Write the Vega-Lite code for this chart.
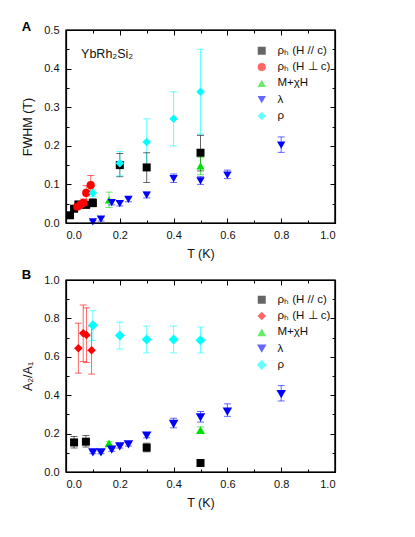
{
  "$schema": "https://vega.github.io/schema/vega-lite/v6.json",
  "padding": {"left": 21, "top": 20, "right": 5, "bottom": 5},
  "spacing": 7,
  "datasets": {
    "a": [
      {"s": "ρₕ (H // c)", "T": 0.015, "v": 0.020, "lo": 0.013, "hi": 0.027},
      {"s": "ρₕ (H // c)", "T": 0.030, "v": 0.037, "lo": 0.030, "hi": 0.044},
      {"s": "ρₕ (H // c)", "T": 0.046, "v": 0.048, "lo": 0.040, "hi": 0.056},
      {"s": "ρₕ (H // c)", "T": 0.075, "v": 0.047, "lo": 0.039, "hi": 0.056},
      {"s": "ρₕ (H // c)", "T": 0.100, "v": 0.052, "lo": 0.042, "hi": 0.063},
      {"s": "ρₕ (H // c)", "T": 0.200, "v": 0.150, "lo": 0.120, "hi": 0.180},
      {"s": "ρₕ (H // c)", "T": 0.300, "v": 0.144, "lo": 0.105, "hi": 0.182},
      {"s": "ρₕ (H // c)", "T": 0.500, "v": 0.182, "lo": 0.135, "hi": 0.227},
      {"s": "ρₕ (H ⊥ c)", "T": 0.042, "v": 0.042, "lo": 0.035, "hi": 0.050},
      {"s": "ρₕ (H ⊥ c)", "T": 0.053, "v": 0.047, "lo": 0.039, "hi": 0.055},
      {"s": "ρₕ (H ⊥ c)", "T": 0.065, "v": 0.052, "lo": 0.043, "hi": 0.062},
      {"s": "ρₕ (H ⊥ c)", "T": 0.075, "v": 0.078, "lo": 0.060, "hi": 0.097},
      {"s": "ρₕ (H ⊥ c)", "T": 0.092, "v": 0.098, "lo": 0.075, "hi": 0.123},
      {"s": "M+χH", "T": 0.160, "v": 0.060, "lo": 0.040, "hi": 0.080},
      {"s": "M+χH", "T": 0.500, "v": 0.148, "lo": 0.125, "hi": 0.170},
      {"s": "λ", "T": 0.100, "v": 0.003, "lo": 0.000, "hi": 0.006},
      {"s": "λ", "T": 0.130, "v": 0.010, "lo": 0.005, "hi": 0.015},
      {"s": "λ", "T": 0.170, "v": 0.053, "lo": 0.047, "hi": 0.059},
      {"s": "λ", "T": 0.200, "v": 0.050, "lo": 0.044, "hi": 0.056},
      {"s": "λ", "T": 0.232, "v": 0.061, "lo": 0.055, "hi": 0.067},
      {"s": "λ", "T": 0.300, "v": 0.072, "lo": 0.065, "hi": 0.080},
      {"s": "λ", "T": 0.400, "v": 0.115, "lo": 0.105, "hi": 0.127},
      {"s": "λ", "T": 0.500, "v": 0.109, "lo": 0.100, "hi": 0.120},
      {"s": "λ", "T": 0.600, "v": 0.124, "lo": 0.115, "hi": 0.137},
      {"s": "λ", "T": 0.800, "v": 0.202, "lo": 0.183, "hi": 0.223},
      {"s": "ρ", "T": 0.100, "v": 0.078, "lo": 0.068, "hi": 0.088},
      {"s": "ρ", "T": 0.200, "v": 0.155, "lo": 0.122, "hi": 0.185},
      {"s": "ρ", "T": 0.300, "v": 0.210, "lo": 0.150, "hi": 0.270},
      {"s": "ρ", "T": 0.400, "v": 0.270, "lo": 0.200, "hi": 0.340},
      {"s": "ρ", "T": 0.500, "v": 0.340, "lo": 0.230, "hi": 0.450}
    ],
    "b": [
      {"s": "ρₕ (H // c)", "T": 0.030, "v": 0.154, "lo": 0.125, "hi": 0.185},
      {"s": "ρₕ (H // c)", "T": 0.074, "v": 0.158, "lo": 0.130, "hi": 0.190},
      {"s": "ρₕ (H // c)", "T": 0.300, "v": 0.127, "lo": 0.105, "hi": 0.150},
      {"s": "ρₕ (H // c)", "T": 0.500, "v": 0.047, "lo": 0.040, "hi": 0.054},
      {"s": "ρₕ (H ⊥ c)", "T": 0.046, "v": 0.645, "lo": 0.515, "hi": 0.775},
      {"s": "ρₕ (H ⊥ c)", "T": 0.064, "v": 0.723, "lo": 0.575, "hi": 0.870},
      {"s": "ρₕ (H ⊥ c)", "T": 0.076, "v": 0.714, "lo": 0.570, "hi": 0.855},
      {"s": "ρₕ (H ⊥ c)", "T": 0.095, "v": 0.634, "lo": 0.510, "hi": 0.760},
      {"s": "M+χH", "T": 0.160, "v": 0.149, "lo": 0.140, "hi": 0.158},
      {"s": "M+χH", "T": 0.500, "v": 0.218, "lo": 0.205, "hi": 0.235},
      {"s": "λ", "T": 0.100, "v": 0.102, "lo": 0.095, "hi": 0.109},
      {"s": "λ", "T": 0.130, "v": 0.102, "lo": 0.095, "hi": 0.109},
      {"s": "λ", "T": 0.170, "v": 0.116, "lo": 0.108, "hi": 0.124},
      {"s": "λ", "T": 0.200, "v": 0.133, "lo": 0.125, "hi": 0.141},
      {"s": "λ", "T": 0.232, "v": 0.144, "lo": 0.135, "hi": 0.153},
      {"s": "λ", "T": 0.300, "v": 0.189, "lo": 0.178, "hi": 0.205},
      {"s": "λ", "T": 0.400, "v": 0.250, "lo": 0.230, "hi": 0.280},
      {"s": "λ", "T": 0.500, "v": 0.284, "lo": 0.260, "hi": 0.315},
      {"s": "λ", "T": 0.600, "v": 0.315, "lo": 0.290, "hi": 0.355},
      {"s": "λ", "T": 0.800, "v": 0.405, "lo": 0.370, "hi": 0.450},
      {"s": "ρ", "T": 0.100, "v": 0.764, "lo": 0.685, "hi": 0.840},
      {"s": "ρ", "T": 0.200, "v": 0.711, "lo": 0.640, "hi": 0.780},
      {"s": "ρ", "T": 0.300, "v": 0.690, "lo": 0.620, "hi": 0.760},
      {"s": "ρ", "T": 0.400, "v": 0.690, "lo": 0.620, "hi": 0.760},
      {"s": "ρ", "T": 0.500, "v": 0.686, "lo": 0.620, "hi": 0.755}
    ],
    "label": [{"name": "YbRh₂Si₂"}]
  },
  "vconcat": [
    {
      "width": 269,
      "height": 193,
      "title": {"text": "A", "anchor": "start", "frame": "bounds", "fontSize": 13, "fontWeight": "bold", "font": "Liberation Sans", "offset": -10, "color": "black"},
      "layer": [
        {
          "data": {"name": "a"},
          "mark": {"type": "rule", "opacity": 0.6, "strokeWidth": 1},
          "encoding": {
            "x": {"field": "T", "type": "quantitative", "scale": {"domain": [0, 1], "nice": false, "zero": false, "padding": 0},
                  "axis": {"orient": "bottom", "values": [0, 0.2, 0.4, 0.6, 0.8, 1], "format": ".1f", "tickSize": -5, "labelPadding": 11, "title": "T (K)", "titlePadding": 7}},
            "y": {"field": "lo", "type": "quantitative", "scale": {"domain": [0, 0.5], "nice": false, "padding": 0},
                  "axis": {"orient": "left", "values": [0, 0.1, 0.2, 0.3, 0.4, 0.5], "format": ".1f", "tickSize": -5, "labelPadding": 12, "title": "FWHM (T)", "titlePadding": 9}},
            "y2": {"field": "hi"},
            "color": {"field": "s", "type": "nominal", "scale": {"domain": ["ρₕ (H // c)", "ρₕ (H ⊥ c)", "M+χH", "λ", "ρ"], "range": ["#000000", "#ff0000", "#00e000", "#0000ff", "#00ffff"]}}
          }
        },
        {
          "data": {"name": "a"},
          "mark": {"type": "tick", "orient": "horizontal", "size": 7, "thickness": 1, "opacity": 0.6},
          "encoding": {
            "x": {"field": "T", "type": "quantitative", "axis": {"orient": "bottom", "values": [0.1, 0.3, 0.5, 0.7, 0.9], "tickSize": -3, "labels": false, "title": null, "domain": false, "minExtent": 0, "maxExtent": 0}},
            "y": {"field": "lo", "type": "quantitative", "axis": {"orient": "left", "values": [0.05, 0.15, 0.25, 0.35, 0.45], "tickSize": -3, "labels": false, "title": null, "domain": false, "minExtent": 0, "maxExtent": 0}},
            "color": {"field": "s", "type": "nominal"}
          }
        },
        {
          "data": {"name": "a"},
          "mark": {"type": "tick", "orient": "horizontal", "size": 7, "thickness": 1, "opacity": 0.6},
          "encoding": {
            "x": {"field": "T", "type": "quantitative", "axis": {"orient": "top", "values": [0, 0.2, 0.4, 0.6, 0.8, 1], "tickSize": -5, "labels": false, "title": null, "domain": true, "minExtent": 0, "maxExtent": 0}},
            "y": {"field": "hi", "type": "quantitative", "axis": {"orient": "right", "values": [0, 0.1, 0.2, 0.3, 0.4, 0.5], "tickSize": -5, "labels": false, "title": null, "domain": true, "minExtent": 0, "maxExtent": 0}},
            "color": {"field": "s", "type": "nominal"}
          }
        },
        {
          "data": {"name": "a"},
          "mark": {"type": "point", "filled": true, "opacity": 1, "strokeWidth": 0},
          "encoding": {
            "x": {"field": "T", "type": "quantitative", "axis": {"orient": "top", "values": [0.1, 0.3, 0.5, 0.7, 0.9], "tickSize": -3, "labels": false, "title": null, "domain": false, "minExtent": 0, "maxExtent": 0}},
            "y": {"field": "v", "type": "quantitative", "axis": {"orient": "right", "values": [0.05, 0.15, 0.25, 0.35, 0.45], "tickSize": -3, "labels": false, "title": null, "domain": false, "minExtent": 0, "maxExtent": 0}},
            "color": {"field": "s", "type": "nominal",
                      "legend": {"orient": "none", "legendX": 190, "legendY": 15, "title": null, "padding": 0, "labelFont": "Liberation Sans", "labelFontSize": 11.5, "labelColor": "#111", "rowPadding": 3.3, "labelOffset": 10, "symbolStrokeWidth": 0}},
            "shape": {"field": "s", "type": "nominal", "scale": {"domain": ["ρₕ (H // c)", "ρₕ (H ⊥ c)", "M+χH", "λ", "ρ"], "range": ["square", "circle", "triangle-up", "triangle-down", "diamond"]}},
            "size": {"field": "s", "type": "nominal", "scale": {"domain": ["ρₕ (H // c)", "ρₕ (H ⊥ c)", "M+χH", "λ", "ρ"], "range": [64, 72, 95, 95, 100]}}
          }
        },
        {
          "data": {"name": "label"},
          "mark": {"type": "text", "align": "left", "baseline": "middle", "font": "Liberation Sans", "fontSize": 12.5, "color": "#111"},
          "encoding": {
            "x": {"datum": 0.056, "type": "quantitative", "axis": null},
            "y": {"datum": 0.438, "type": "quantitative", "axis": null},
            "text": {"field": "name"}
          }
        },
        {
          "data": {"name": "label"},
          "mark": {"type": "rect", "filled": false, "fillOpacity": 0, "stroke": "#000000", "strokeWidth": 1.2},
          "encoding": {
            "x": {"datum": 0, "type": "quantitative", "axis": null},
            "x2": {"datum": 1},
            "y": {"datum": 0, "type": "quantitative", "axis": null},
            "y2": {"datum": 0.5}
          }
        }
      ],
      "resolve": {"axis": {"x": "independent", "y": "independent"}}
    },
    {
      "width": 269,
      "height": 192,
      "title": {"text": "B", "anchor": "start", "frame": "bounds", "fontSize": 13, "fontWeight": "bold", "font": "Liberation Sans", "offset": -8, "color": "black"},
      "layer": [
        {
          "data": {"name": "b"},
          "mark": {"type": "rule", "opacity": 0.6, "strokeWidth": 1},
          "encoding": {
            "x": {"field": "T", "type": "quantitative", "scale": {"domain": [0, 1], "nice": false, "zero": false, "padding": 0},
                  "axis": {"orient": "bottom", "values": [0, 0.2, 0.4, 0.6, 0.8, 1], "format": ".1f", "tickSize": -5, "labelPadding": 11, "title": "T (K)", "titlePadding": 7}},
            "y": {"field": "lo", "type": "quantitative", "scale": {"domain": [0, 1], "nice": false, "padding": 0},
                  "axis": {"orient": "left", "values": [0, 0.2, 0.4, 0.6, 0.8, 1], "format": ".1f", "tickSize": -5, "labelPadding": 12, "title": "A₂/A₁", "titlePadding": 9}},
            "y2": {"field": "hi"},
            "color": {"field": "s", "type": "nominal", "scale": {"domain": ["ρₕ (H // c)", "ρₕ (H ⊥ c)", "M+χH", "λ", "ρ"], "range": ["#000000", "#ff0000", "#00e000", "#0000ff", "#00ffff"]}}
          }
        },
        {
          "data": {"name": "b"},
          "mark": {"type": "tick", "orient": "horizontal", "size": 7, "thickness": 1, "opacity": 0.6},
          "encoding": {
            "x": {"field": "T", "type": "quantitative", "axis": {"orient": "bottom", "values": [0.1, 0.3, 0.5, 0.7, 0.9], "tickSize": -3, "labels": false, "title": null, "domain": false, "minExtent": 0, "maxExtent": 0}},
            "y": {"field": "lo", "type": "quantitative", "axis": {"orient": "left", "values": [0.1, 0.3, 0.5, 0.7, 0.9], "tickSize": -3, "labels": false, "title": null, "domain": false, "minExtent": 0, "maxExtent": 0}},
            "color": {"field": "s", "type": "nominal"}
          }
        },
        {
          "data": {"name": "b"},
          "mark": {"type": "tick", "orient": "horizontal", "size": 7, "thickness": 1, "opacity": 0.6},
          "encoding": {
            "x": {"field": "T", "type": "quantitative", "axis": {"orient": "top", "values": [0, 0.2, 0.4, 0.6, 0.8, 1], "tickSize": -5, "labels": false, "title": null, "domain": true, "minExtent": 0, "maxExtent": 0}},
            "y": {"field": "hi", "type": "quantitative", "axis": {"orient": "right", "values": [0, 0.2, 0.4, 0.6, 0.8, 1], "tickSize": -5, "labels": false, "title": null, "domain": true, "minExtent": 0, "maxExtent": 0}},
            "color": {"field": "s", "type": "nominal"}
          }
        },
        {
          "data": {"name": "b"},
          "mark": {"type": "point", "filled": true, "opacity": 1, "strokeWidth": 0},
          "encoding": {
            "x": {"field": "T", "type": "quantitative", "axis": {"orient": "top", "values": [0.1, 0.3, 0.5, 0.7, 0.9], "tickSize": -3, "labels": false, "title": null, "domain": false, "minExtent": 0, "maxExtent": 0}},
            "y": {"field": "v", "type": "quantitative", "axis": {"orient": "right", "values": [0.1, 0.3, 0.5, 0.7, 0.9], "tickSize": -3, "labels": false, "title": null, "domain": false, "minExtent": 0, "maxExtent": 0}},
            "color": {"field": "s", "type": "nominal",
                      "legend": {"orient": "none", "legendX": 190, "legendY": 14, "title": null, "padding": 0, "labelFont": "Liberation Sans", "labelFontSize": 11.5, "labelColor": "#111", "rowPadding": 3.3, "labelOffset": 10, "symbolStrokeWidth": 0}},
            "shape": {"field": "s", "type": "nominal", "scale": {"domain": ["ρₕ (H // c)", "ρₕ (H ⊥ c)", "M+χH", "λ", "ρ"], "range": ["square", "diamond", "triangle-up", "triangle-down", "diamond"]}},
            "size": {"field": "s", "type": "nominal", "scale": {"domain": ["ρₕ (H // c)", "ρₕ (H ⊥ c)", "M+χH", "λ", "ρ"], "range": [64, 100, 95, 95, 100]}}
          }
        },
        {
          "data": {"name": "label"},
          "mark": {"type": "rect", "filled": false, "fillOpacity": 0, "stroke": "#000000", "strokeWidth": 1.2},
          "encoding": {
            "x": {"datum": 0, "type": "quantitative", "axis": null},
            "x2": {"datum": 1},
            "y": {"datum": 0, "type": "quantitative", "axis": null},
            "y2": {"datum": 1}
          }
        }
      ],
      "resolve": {"axis": {"x": "independent", "y": "independent"}}
    }
  ],
  "resolve": {"scale": {"color": "independent", "shape": "independent", "size": "independent", "x": "independent", "y": "independent"}, "legend": {"color": "independent", "shape": "independent", "size": "independent"}},
  "config": {
    "view": {"stroke": "#000000", "strokeWidth": 1.2},
    "axis": {"grid": false, "domainColor": "black", "domainWidth": 1.2, "tickColor": "black", "labelFont": "Liberation Sans", "labelFontSize": 11, "labelColor": "#111", "titleFont": "Liberation Sans", "titleFontSize": 12.5, "titleFontWeight": "normal", "titleColor": "#111"}
  }
}
